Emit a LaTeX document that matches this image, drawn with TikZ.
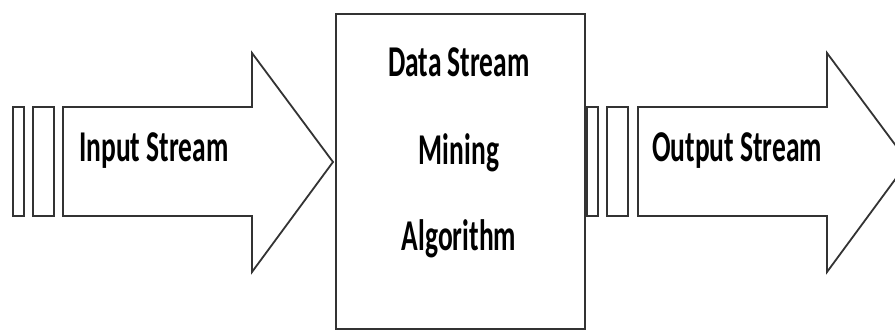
\documentclass[tikz,border=0pt]{standalone}
\usepackage{fontspec}
\setmainfont{Carlito}
\newcommand{\tallbf}[1]{\scalebox{1}[1.6]{\bfseries #1}}
\begin{document}
\begin{tikzpicture}[x=1pt,y=-1pt,
  shape line/.style={draw=black!80, line width=1.8pt, line join=miter, fill=white},
  lbl/.style={inner sep=0pt, font=\fontsize{27.5}{30}\selectfont, text=black}]
\useasboundingbox (0,0) rectangle (895,331);
% left input stream
\draw[shape line] (13,107) rectangle (24,216);
\draw[shape line] (33,107) rectangle (54,216);
\draw[shape line] (63,107) -- (252,107) -- (252,53) -- (333,162) -- (252,272) -- (252,216) -- (63,216) -- cycle;
% central box
\node[shape line, minimum width=249pt, minimum height=315pt, inner sep=0pt, anchor=north west] (box) at (335,13) {};
% right output stream
\draw[shape line] (587,107) rectangle (598,216);
\draw[shape line] (607,107) rectangle (628,216);
\draw[shape line] (638,107) -- (827,107) -- (827,53) -- (908,162) -- (827,272) -- (827,216) -- (638,216) -- cycle;
% labels
\node[lbl, anchor=base west] (in) at (79,162) {\tallbf{Input Stream}};
\node[lbl, anchor=base west] (out) at (652,162) {\tallbf{Output Stream}};
\node[lbl, anchor=base] (l1) at (459,77) {\tallbf{Data Stream}};
\node[lbl, anchor=base] (l2) at (459,165) {\tallbf{Mining}};
\node[lbl, anchor=base] (l3) at (459,251) {\tallbf{Algorithm}};
\end{tikzpicture}
\end{document}
